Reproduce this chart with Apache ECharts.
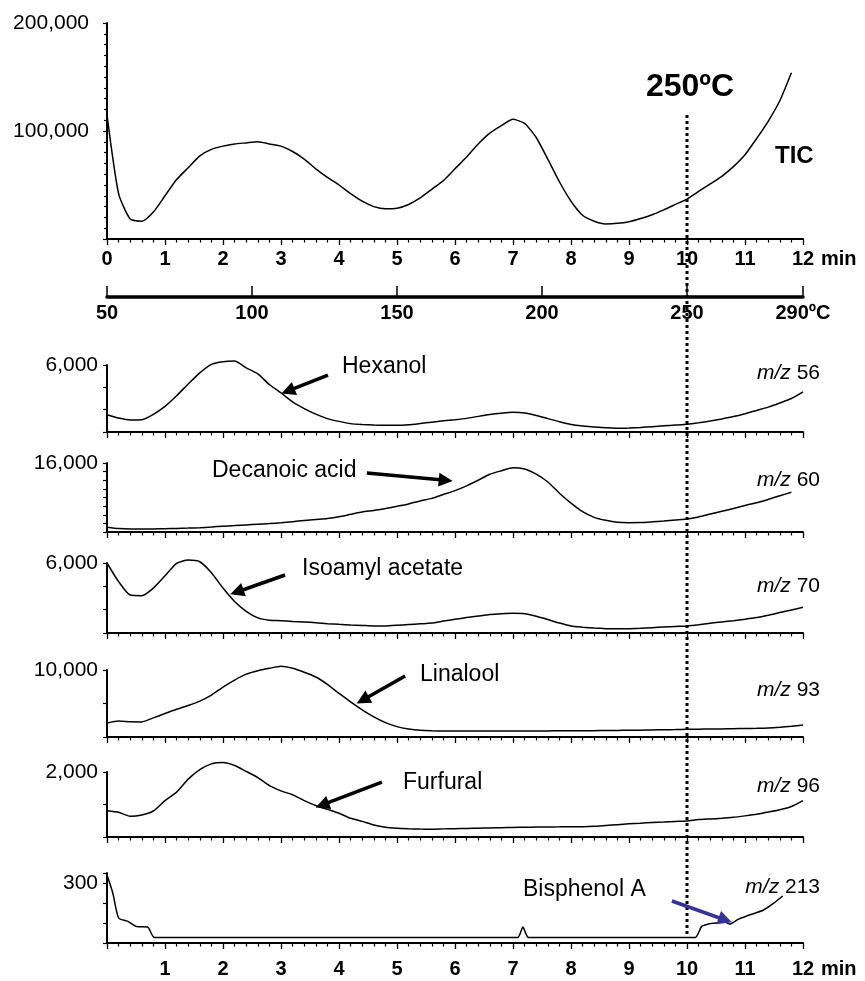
<!DOCTYPE html>
<html>
<head>
<meta charset="utf-8">
<script src="https://cdn.jsdelivr.net/npm/echarts@6/dist/echarts.min.js"></script>
<style>
html, body { margin: 0; padding: 0; background: #fff; }
#chart { width: 865px; height: 981px; }
</style>
</head>
<body>
<div id="chart"></div>
<script>
// retention time (min), shared by the TIC and most ion traces
const minutes = [0, 0.2, 0.4, 0.6, 0.8, 1, 1.2, 1.4, 1.6, 1.8,
  2, 2.2, 2.4, 2.6, 2.8, 3, 3.2, 3.4, 3.6, 3.8,
  4, 4.2, 4.4, 4.6, 4.8, 5, 5.2, 5.4, 5.6, 5.8,
  6, 6.2, 6.4, 6.6, 6.8, 7, 7.2, 7.4, 7.6, 7.8,
  8, 8.2, 8.4, 8.6, 8.8, 9, 9.2, 9.4, 9.6, 9.8,
  10, 10.2, 10.4, 10.6, 10.8, 11, 11.2, 11.4, 11.6, 11.8, 12];

const ticValues = [115000, 42000, 18500, 16500, 25000, 40000, 55000, 66000, 77000, 83000,
  86000, 88000, 89000, 90000, 88000, 86000, 81000, 74000, 65000, 57000,
  50000, 42000, 35000, 30000, 28000, 28500, 32000, 38000, 46000, 54000,
  65000, 76000, 88000, 98000, 105000, 110800, 107000, 94000, 74000, 53000,
  35000, 22000, 16500, 14000, 14500, 16000, 19000, 22500, 27000, 32000,
  37000, 44000, 51000, 58000, 67000, 78000, 93000, 109000, 128000, 154000, null];

const mz56 = [1550, 1250, 1075, 1100, 1580, 2300, 3250, 4300, 5300, 6060,
  6300, 6350, 5750, 5200, 4250, 3500, 2700, 2100, 1600, 1200,
  950, 750, 670, 620, 600, 597, 650, 760, 880, 1000,
  1100, 1220, 1400, 1560, 1680, 1760, 1700, 1480, 1200, 920,
  680, 540, 440, 380, 330, 360, 410, 480, 550, 620,
  690, 820, 980, 1170, 1380, 1640, 1930, 2230, 2600, 3000, 3600];

const mz60 = [1100, 800, 700, 700, 720, 750, 820, 900, 1000, 1150,
  1350, 1480, 1650, 1800, 1950, 2150, 2400, 2650, 2900, 3150,
  3550, 4100, 4650, 5000, 5450, 5950, 6500, 7200, 7800, 8700,
  9600, 10700, 12000, 13400, 14200, 14900, 14600, 13400, 11600, 9000,
  6700, 4700, 3400, 2700, 2250, 2150, 2180, 2350, 2550, 2780,
  3015, 3500, 4150, 4800, 5450, 6150, 6800, 7550, 8400, 9200, null];

const mz70 = [6000, 4400, 3250, 3200, 3850, 4900, 5970, 6250, 6110, 5170,
  3850, 2700, 1850, 1300, 1100, 1050, 990, 950, 880, 800,
  740, 686, 650, 610, 610, 660, 730, 790, 850, 1020,
  1180, 1320, 1450, 1580, 1650, 1690, 1650, 1430, 1150, 850,
  600, 500, 420, 370, 360, 368, 400, 460, 510, 560,
  600, 700, 830, 950, 1060, 1180, 1320, 1520, 1750, 1980, 2200];

const mz93 = [2100, 2400, 2270, 2250, 2850, 3500, 4130, 4700, 5350, 6250,
  7450, 8500, 9380, 9900, 10250, 10550, 10250, 9660, 8950, 7850,
  6500, 5250, 4050, 3000, 2150, 1550, 1200, 990, 920, 900,
  895, 890, 890, 890, 895, 900, 900, 905, 910, 920,
  930, 940, 950, 960, 980, 1000, 1020, 1050, 1080, 1110,
  1145, 1170, 1190, 1210, 1240, 1270, 1290, 1340, 1450, 1600, 1790];

const mz96 = [810, 760, 640, 680, 800, 1120, 1380, 1780, 2070, 2250,
  2290, 2200, 2020, 1830, 1580, 1420, 1300, 1120, 970, 850,
  730, 575, 480, 370, 300, 270, 255, 245, 240, 250,
  255, 262, 270, 280, 288, 295, 300, 305, 310, 312,
  315, 318, 330, 355, 380, 405, 425, 445, 460, 478,
  495, 535, 555, 575, 605, 650, 700, 770, 840, 940, 1120];

// m/z 213 has sharp steps, so it keeps its own time points
const mz213Times = [0, 0.1, 0.2, 0.37, 0.51, 0.7, 0.82, 7.08, 7.17, 7.27,
  10.14, 10.25, 10.37, 10.5, 10.63, 10.74, 10.88, 11.03, 11.18, 11.32, 11.49, 11.65];
const mz213Values = [340, 250, 125, 107, 82, 80, 27, 27, 80, 27,
  27, 82, 95, 100, 108, 95, 118, 135, 150, 165, 198, 235];

const ionLabels = ['56', '60', '70', '93', '96', '213'];
const compoundNames = ['Hexanol', 'Decanoic acid', 'Isoamyl acetate', 'Linalool', 'Furfural', 'Bisphenol A'];

// y scales: TIC first, then the six ion traces
const panelMax = [200000, 6000, 16000, 6000, 10000, 2000, 350];
const panelStep = [100000, 2000, 2000, 2000, 5000, 1000, 100];
const panelLabels = [[100000, 200000], [6000], [16000], [6000], [10000], [2000], [300]];

const timeMin = 0, timeMax = 12, timeStep = 1;
const tempMin = 50, tempMax = 290, tempStep = 50;

const FONT = 'Liberation Sans, Arial, sans-serif';
const chart = echarts.init(document.getElementById('chart'));

// grid 0 = TIC, grid 1 = temperature scale, grids 2..7 = ion traces
const layout = [
  { top: 23, height: 216 },
  { top: 296, height: 1 },
  { top: 365, height: 67 },
  { top: 463, height: 69 },
  { top: 563, height: 70 },
  { top: 670, height: 67 },
  { top: 772, height: 65 },
  { top: 873, height: 70 }
];
const grids = layout.map(l => ({ left: 107, right: 62, top: l.top, height: l.height }));

const panelGrid = [0, 2, 3, 4, 5, 6, 7];
const lastGrid = 7;

const xAxes = [];
const yAxes = [];
layout.forEach((l, g) => {
  if (g === 1) {
    xAxes.push({
      type: 'value', gridIndex: 1, min: tempMin, max: tempMax, interval: tempStep,
      axisLine: { lineStyle: { color: '#000', width: 3.5 } },
      axisTick: { inside: true, length: 11, lineStyle: { color: '#000', width: 1.5 } },
      splitLine: { show: false },
      axisLabel: {
        color: '#000', fontFamily: FONT, fontWeight: 'bold', fontSize: 20, margin: 6,
        formatter: v => v === tempMax ? v + 'ºC' : String(v)
      }
    });
    yAxes.push({ type: 'value', gridIndex: 1, show: false, min: 0, max: 1 });
    return;
  }
  const showLabels = g === 0 || g === lastGrid;
  xAxes.push({
    type: 'value', gridIndex: g, min: timeMin, max: timeMax, interval: timeStep,
    axisLine: { onZero: false, lineStyle: { color: '#000', width: 2 } },
    axisTick: { length: 6, lineStyle: { color: '#000', width: 1.3 } },
    minorTick: { show: true, splitNumber: 5, length: 3.5, lineStyle: { color: '#000', width: 1.2 } },
    splitLine: { show: false },
    axisLabel: {
      show: showLabels, color: '#000', fontFamily: FONT, fontWeight: 'bold', fontSize: 20,
      margin: g === 0 ? 10 : 16,
      formatter: v => (g === lastGrid && v === 0) ? '' : String(v)
    }
  });
  const p = panelGrid.indexOf(g);
  yAxes.push({
    type: 'value', gridIndex: g, min: 0, max: panelMax[p], interval: panelStep[p],
    axisLine: { show: true, lineStyle: { color: '#000', width: 2 } },
    axisTick: { show: true, length: 4, lineStyle: { color: '#000', width: 1.2 } },
    minorTick: { show: p === 0, splitNumber: 10, length: 3, lineStyle: { color: '#000', width: 1.2 } },
    splitLine: { show: false },
    axisLabel: {
      color: '#000', fontFamily: FONT, fontSize: 21, margin: p === 0 ? 18 : 9,
      formatter: v => panelLabels[p].indexOf(v) >= 0 ? v.toLocaleString('en-US') : ''
    }
  });
});

function pairs(xs, ys) {
  const out = [];
  xs.forEach((x, i) => { if (ys[i] != null) out.push([x, ys[i]]); });
  return out;
}

// arrows pointing at each compound, in data coordinates of its panel
const arrows = [
  { from: [3.81, 5104], to: [3.12, 3672], color: '#000' },
  { from: [4.48, 13682], to: [5.84, 12000], color: '#000' },
  { from: [3.07, 4971], to: [2.24, 3514], color: '#000' },
  { from: [5.14, 9107], to: [4.41, 5524], color: '#000' },
  { from: [4.74, 1692], to: [3.71, 985], color: '#000' },
  { from: [9.74, 210], to: [10.66, 115], color: '#333399' }
];

const traceData = [
  pairs(minutes, ticValues),
  pairs(minutes, mz56),
  pairs(minutes, mz60),
  pairs(minutes, mz70),
  pairs(minutes, mz93),
  pairs(minutes, mz96),
  pairs(mz213Times, mz213Values)
];

const series = traceData.map((d, p) => {
  const s = {
    type: 'line', xAxisIndex: panelGrid[p], yAxisIndex: panelGrid[p],
    data: d, showSymbol: false, symbol: 'none', clip: false,
    lineStyle: { color: '#000', width: 1.5 }, smooth: 0.2
  };
  if (p > 0) {
    const a = arrows[p - 1];
    s.markLine = {
      silent: true, symbol: ['none', 'triangle'], symbolSize: 14,
      label: { show: false },
      lineStyle: { color: a.color, width: 3.5, type: 'solid' },
      data: [[{ coord: a.from }, { coord: a.to }]]
    };
  }
  return s;
});

chart.setOption({
  animation: false,
  backgroundColor: '#fff',
  grid: grids,
  xAxis: xAxes,
  yAxis: yAxes,
  series: series
});

// overlay texts and the 250ºC marker, positioned from the axes
const x10 = chart.convertToPixel({ xAxisIndex: 0 }, 10);
const x12 = chart.convertToPixel({ xAxisIndex: 0 }, 12);
const txt = (text, x, y, opts) => ({
  type: 'text', x: x, y: y, silent: true,
  style: Object.assign({ text: text, fill: '#000', font: '23px ' + FONT, textVerticalAlign: 'middle' }, opts || {})
});

const namePos = [[342, 367], [212, 471], [302, 569], [420, 675], [403, 783], [523, 890]];
const ionY = [373, 480, 586, 690, 786, 887];

const graphics = [
  {
    type: 'line', silent: true,
    shape: { x1: x10, y1: 115, x2: x10, y2: 935 },
    style: { stroke: '#000', lineWidth: 3, lineDash: [3, 3] }
  },
  txt('250ºC', x10 + 3, 87, { font: 'bold 32px ' + FONT, textAlign: 'center' }),
  txt('TIC', 775, 156, { font: 'bold 24px ' + FONT }),
  txt('min', x12 + 18, 249, { font: 'bold 20px ' + FONT, textVerticalAlign: 'top' }),
  txt('min', x12 + 18, 959, { font: 'bold 20px ' + FONT, textVerticalAlign: 'top' })
];
compoundNames.forEach((n, i) => graphics.push(txt(n, namePos[i][0], namePos[i][1])));
ionLabels.forEach((m, i) => graphics.push(txt('{i|m/z} ' + m, 820, ionY[i], {
  font: '21px ' + FONT, textAlign: 'right',
  rich: { i: { fontStyle: 'italic', fontSize: 21, fontFamily: FONT } }
})));

chart.setOption({ graphic: graphics });
</script>
</body>
</html>
